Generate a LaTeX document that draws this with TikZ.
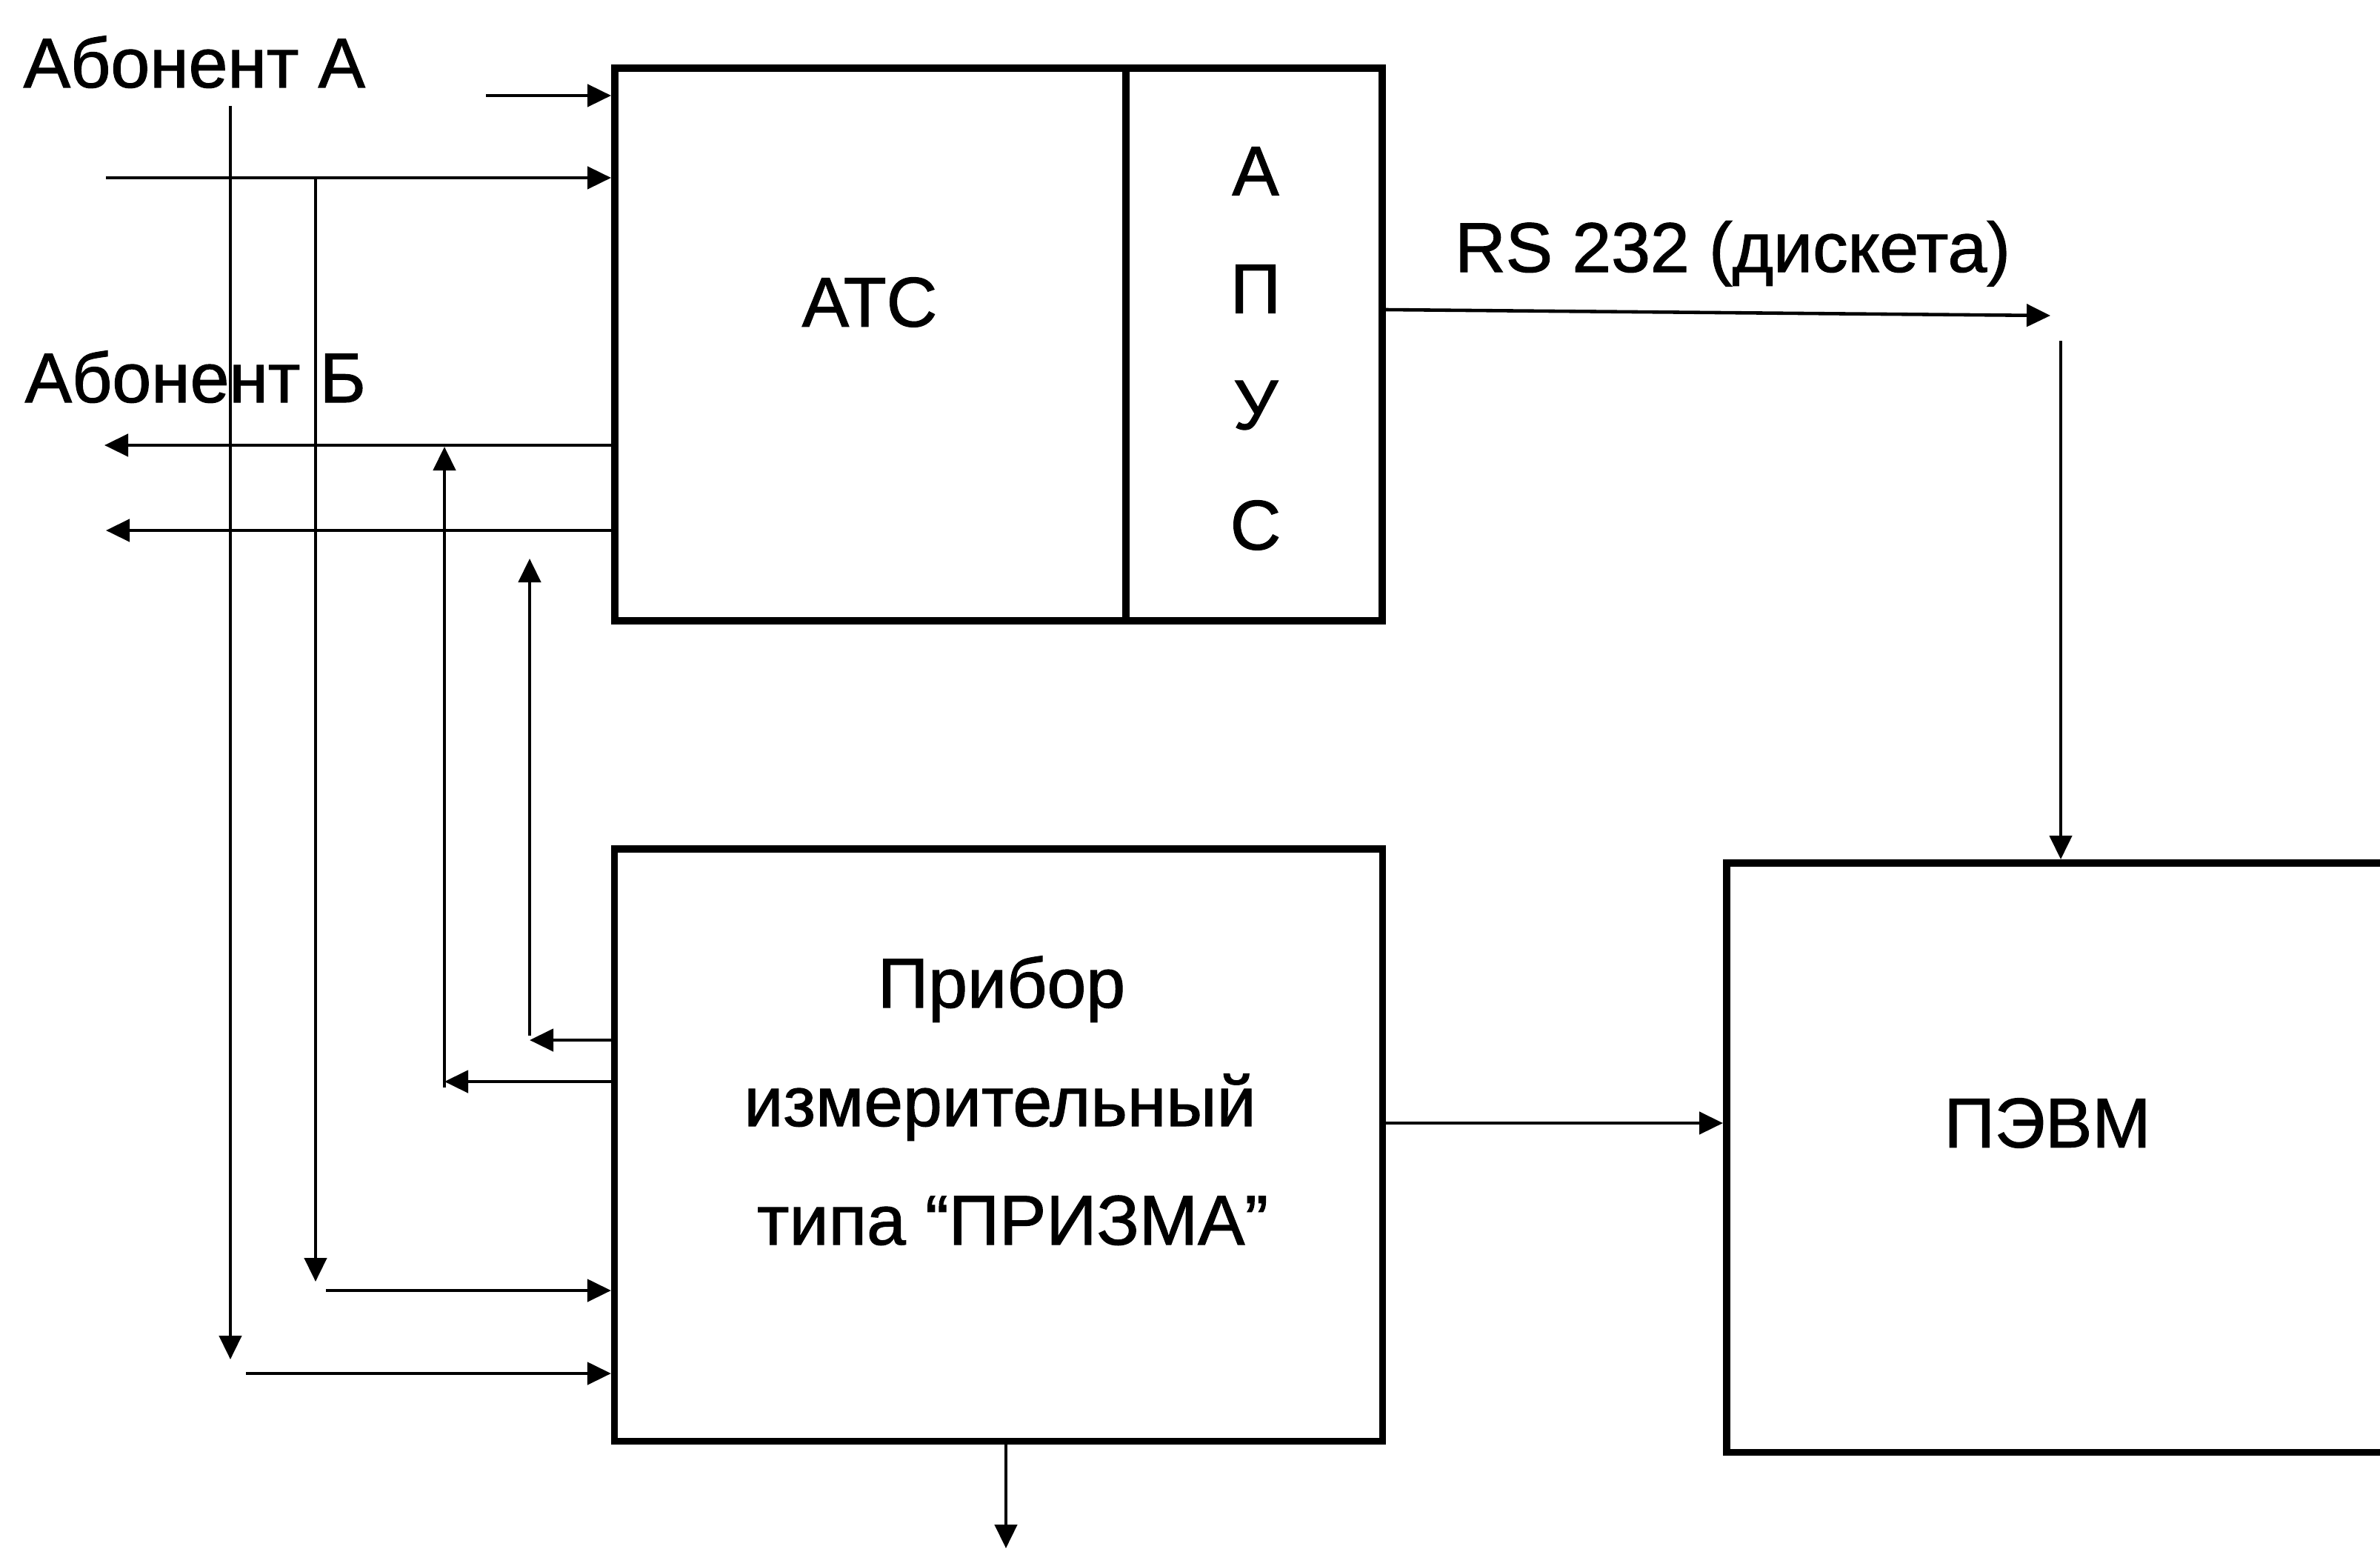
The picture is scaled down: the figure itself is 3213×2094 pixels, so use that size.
\documentclass[tikz,border=0pt]{standalone}
\usepackage{fontspec}
\setmainfont{Liberation Sans}[UprightFeatures={FakeBold=1.2}]
\usetikzlibrary{arrows.meta}
\begin{document}
\begin{tikzpicture}[x=0.01cm,y=-0.01cm,
  box/.style={draw, line width=2.7pt, rectangle, inner sep=0pt},
  lbl/.style={font=\fontsize{27}{32}\selectfont, inner sep=0pt},
  conn/.style={line width=1.3pt, -{Triangle[length=0.32cm,width=0.3cm]}},
]
\useasboundingbox (0,0) rectangle (3213,2094);
\fill[white] (0,0) rectangle (3213,2094);
\clip (0,0) rectangle (3213,2094);

% blocks
\node[box, minimum width=6.9cm, minimum height=7.46cm] (atc) at (1175,465) {};
\node[box, minimum width=3.46cm, minimum height=7.46cm] (apus) at (1693,465) {};
\node[box, minimum width=10.36cm, minimum height=7.99cm] (pribor) at (1348,1545.5) {};
\node[box, minimum width=9.29cm, minimum height=7.95cm] (pevm) at (2795.5,1562.5) {};

% texts
\node[lbl, anchor=base west] (abA) at (31,118) {Абонент А};
\node[lbl, anchor=base west] (abB) at (33,543) {Абонент Б};
\node[lbl] (atclbl) at (1174,408) {АТС};
\node[lbl] (apus1) at (1695,231) {А};
\node[lbl] (apus2) at (1695,390) {П};
\node[lbl] (apus3) at (1695,547) {У};
\node[lbl] (apus4) at (1695,709) {С};
\node[lbl, anchor=base] (rs) at (2339,367) {RS 232 (дискета)};
\node[lbl, anchor=base] (pr1) at (1352,1360) {Прибор};
\node[lbl, anchor=base] (pr2) at (1350,1520) {измерительный};
\node[lbl, anchor=base] (pr3) at (1367,1680) {типа “ПРИЗМА”};
\node[lbl] (pevmlbl) at (2764,1516) {ПЭВМ};

% inputs of subscriber A into ATC
\coordinate (inA1) at (656,129);
\draw[conn] (inA1) -- (inA1 -| atc.west);
\coordinate (inA2) at (143,240);
\draw[conn] (inA2) -- (inA2 -| atc.west);

% taps of subscriber A down to the instrument
\coordinate (vA1top) at (311,143);
\coordinate (vA1bot) at (311,1835);
\draw[conn] (vA1top) -- (vA1bot);
\coordinate (vA2top) at (426,240);
\coordinate (vA2bot) at (426,1730);
\draw[conn] (vA2top) -- (vA2bot);
\coordinate (inP1) at (440,1742);
\draw[conn] (inP1) -- (inP1 -| pribor.west);
\coordinate (inP2) at (332,1854);
\draw[conn] (inP2) -- (inP2 -| pribor.west);

% outputs of ATC to subscriber B
\coordinate (outB1) at (141,601);
\draw[conn] (outB1 -| atc.west) -- (outB1);
\coordinate (outB2) at (143,716);
\draw[conn] (outB2 -| atc.west) -- (outB2);

% instrument back to lines B
\coordinate (v3bot) at (600,1460);
\coordinate (v3low) at (600,1468);
\coordinate (v3top) at (600,603);
\draw[conn] (v3bot -| pribor.west) -- (v3bot);
\draw[conn] (v3low) -- (v3top);
\coordinate (v4bot) at (715,1404);
\coordinate (v4low) at (715,1398);
\coordinate (v4top) at (715,754);
\draw[conn] (v4bot -| pribor.west) -- (v4bot);
\draw[conn] (v4low) -- (v4top);

% RS 232 path
\coordinate (rsy) at (0,418);
\coordinate (rsend) at (2768,426);
\draw[conn] (rsy -| apus.east) -- (rsend);
\coordinate (rsdown) at (2782,460);
\draw[conn] (rsdown) -- (rsdown |- pevm.north);

% instrument to PC
\coordinate (pp) at (0,1516);
\draw[conn] (pp -| pribor.east) -- (pp -| pevm.west);

% instrument output down
\coordinate (bot) at (1358,2090);
\draw[conn] (bot |- pribor.south) -- (bot);
\end{tikzpicture}
\end{document}
